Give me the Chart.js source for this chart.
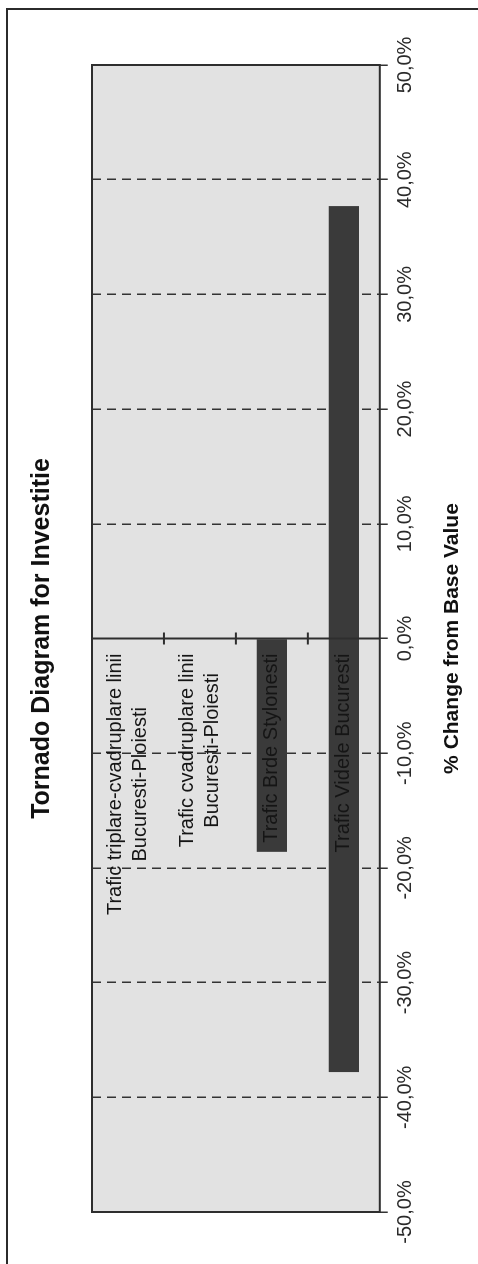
<!DOCTYPE html>
<html>
<head>
<meta charset="utf-8">
<title>Tornado Diagram for Investitie</title>
<script src="https://cdn.jsdelivr.net/npm/chart.js@4"></script>
<style>
  html, body { margin: 0; padding: 0; background: #fff; overflow: hidden; }
  #page { position: relative; width: 478px; height: 1264px; overflow: hidden; }
  #frame {
    position: absolute; left: 6px; top: 8px; width: 700px; height: 1400px;
    border: 2px solid #2b2b2b; box-sizing: border-box;
  }
  /* the chart is drawn landscape and turned a quarter to the left */
  #turn {
    position: absolute; left: 0; top: 0; width: 1264px; height: 478px;
    transform-origin: 0 0; transform: translateY(1264px) rotate(-90deg);
  }
</style>
</head>
<body>
<div id="page">
  <div id="frame"></div>
  <div id="turn"><canvas id="chart" width="1264" height="478"></canvas></div>
</div>
<script>
// DATA //

const categories = [
  ["Trafic triplare-cvadruplare linii", "Bucuresti-Ploiesti"],
  ["Trafic cvadruplare linii", "Bucuresti-Ploiesti"],
  ["Trafic Brde Stylonesti"],
  ["Trafic Videle Bucuresti"],
];
// % change from base value at the low and high end of each input
const lowValues = [0, 0, -18.6, -37.8];
const highValues = [0, 0, 0, 37.7];
const axisMin = -50;
const axisMax = 50;
const axisStep = 10;

const FONT = "'Liberation Sans', Arial, sans-serif";

// HELPERS //

// "50,0%" style tick labels
function percentLabel(v) {
  return v.toFixed(1).replace(".", ",") + "%";
}

// plot area fill, frame, zero line and category labels
const tornadoFrame = {
  id: "tornadoFrame",
  beforeDraw(chart) {
    const { ctx, chartArea: a } = chart;
    ctx.save();
    ctx.fillStyle = "#e2e2e2";
    ctx.fillRect(a.left, a.top, a.right - a.left, a.bottom - a.top);
    ctx.restore();
  },
  afterDatasetsDraw(chart) {
    const { ctx, chartArea: a } = chart;
    const x = chart.scales.x;
    const y = chart.scales.y;
    const zero = x.getPixelForValue(0);
    ctx.save();
    ctx.strokeStyle = "#2e2e2e";
    ctx.lineWidth = 2;
    ctx.strokeRect(a.left, a.top, a.right - a.left, a.bottom - a.top);
    ctx.beginPath();
    ctx.moveTo(zero, a.top);
    ctx.lineTo(zero, a.bottom);
    ctx.stroke();
    // small cross ticks between the categories
    for (let i = 1; i < categories.length; i++) {
      const p = (y.getPixelForValue(i - 1) + y.getPixelForValue(i)) / 2;
      ctx.beginPath();
      ctx.moveTo(zero - 6, p);
      ctx.lineTo(zero + 6, p);
      ctx.stroke();
    }
    // category labels sit just left of the zero line
    ctx.fillStyle = "#151515";
    ctx.font = "20px " + FONT;
    ctx.textAlign = "center";
    ctx.textBaseline = "middle";
    const lineHeight = 25;
    categories.forEach((lines, i) => {
      const w = Math.max(...lines.map((t) => ctx.measureText(t).width));
      const cx = zero - 15 - w / 2;
      const cy = y.getPixelForValue(i);
      lines.forEach((t, j) => {
        ctx.fillText(t, cx, cy + (j - (lines.length - 1) / 2) * lineHeight);
      });
    });
    ctx.restore();
  },
};

// CHART //

new Chart(document.getElementById("chart"), {
  type: "bar",
  data: {
    labels: categories,
    datasets: [
      {
        data: lowValues.map((lo, i) => [lo, highValues[i]]),
        backgroundColor: "#3a3a3a",
        borderWidth: 0,
        barPercentage: 0.42,
        categoryPercentage: 1,
      },
    ],
  },
  options: {
    indexAxis: "y",
    responsive: false,
    animation: false,
    layout: { padding: { left: 52, right: 65, top: 0, bottom: 13 } },
    plugins: {
      legend: { display: false },
      tooltip: { enabled: false },
      title: {
        display: true,
        text: "Tornado Diagram for Investitie",
        color: "#111",
        font: { family: FONT, size: 25, weight: "bold" },
        padding: { top: 27, bottom: 35 },
      },
    },
    scales: {
      x: {
        min: axisMin,
        max: axisMax,
        ticks: {
          stepSize: axisStep,
          color: "#2a2a2a",
          padding: 6,
          font: { family: FONT, size: 20 },
          callback: (v) => percentLabel(v),
        },
        grid: {
          color: (c) =>
            c.tick && (c.tick.value === 0 || Math.abs(c.tick.value) === 50)
              ? "rgba(0,0,0,0)"
              : "#333",
          lineWidth: 1.5,
          tickColor: "#333",
          tickLength: 8,
        },
        border: { display: false, dash: [9, 6] },
        title: {
          display: true,
          text: "% Change from Base Value",
          color: "#111",
          font: { family: FONT, size: 21, weight: "bold" },
          padding: { top: 16, bottom: 0 },
        },
      },
      y: {
        display: false,
      },
    },
  },
  plugins: [tornadoFrame],
});
</script>
</body>
</html>
